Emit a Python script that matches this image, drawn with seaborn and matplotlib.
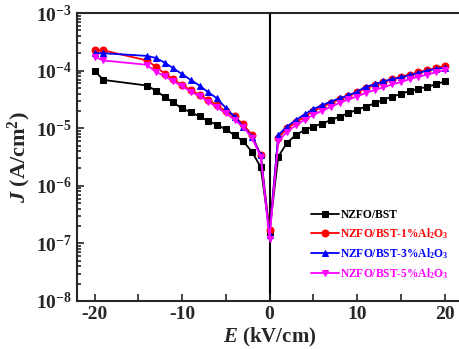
import numpy as np
import pandas as pd
import matplotlib
matplotlib.use('Agg')
import matplotlib.pyplot as plt
import matplotlib.ticker as mticker
import seaborn as sns

# Electric field (kV/cm)
E = [-20, -19, -14, -13, -12, -11, -10, -9, -8, -7, -6, -5, -4, -3, -2, -1, 0,
     1, 2, 3, 4, 5, 6, 7, 8, 9, 10, 11, 12, 13, 14, 15, 16, 17, 18, 19, 20]

# Leakage current density (A/cm2)
J_bst = [1.0e-4, 6.9e-5, 5.5e-5, 4.5e-5, 3.5e-5, 2.8e-5, 2.2e-5, 1.9e-5, 1.6e-5, 1.33e-5,
         1.15e-5, 9.5e-6, 7.6e-6, 5.9e-6, 3.9e-6, 2.1e-6, 1.6e-7,
         3.2e-6, 5.6e-6, 7.6e-6, 9.3e-6, 1.07e-5, 1.2e-5, 1.38e-5, 1.58e-5, 1.82e-5, 2.1e-5,
         2.35e-5, 2.7e-5, 3.1e-5, 3.55e-5, 3.9e-5, 4.45e-5, 4.8e-5, 5.25e-5, 5.75e-5, 6.5e-5]
J_al1 = [2.3e-4, 2.25e-4, 1.5e-4, 1.17e-4, 8.9e-5, 7.1e-5, 5.6e-5, 4.6e-5, 3.8e-5, 3.1e-5,
         2.5e-5, 1.95e-5, 1.6e-5, 1.17e-5, 7.6e-6, 3.4e-6, 1.7e-7,
         6.8e-6, 1.0e-5, 1.26e-5, 1.58e-5, 2.0e-5, 2.35e-5, 2.75e-5, 3.2e-5, 3.6e-5, 4.2e-5,
         5.0e-5, 5.6e-5, 6.3e-5, 7.1e-5, 7.8e-5, 8.5e-5, 9.3e-5, 1.02e-4, 1.1e-4, 1.2e-4]
J_al3 = [2.0e-4, 2.0e-4, 1.8e-4, 1.66e-4, 1.38e-4, 1.1e-4, 8.7e-5, 6.9e-5, 5.5e-5, 4.2e-5,
         3.3e-5, 2.25e-5, 1.58e-5, 1.07e-5, 7.1e-6, 3.4e-6, 1.4e-7,
         7.6e-6, 1.07e-5, 1.38e-5, 1.74e-5, 2.15e-5, 2.5e-5, 2.9e-5, 3.3e-5, 3.7e-5, 4.3e-5,
         5.25e-5, 5.75e-5, 6.5e-5, 7.1e-5, 7.6e-5, 8.3e-5, 9.1e-5, 1.0e-4, 1.07e-4, 1.12e-4]
J_al5 = [1.74e-4, 1.5e-4, 1.26e-4, 9.5e-5, 8.1e-5, 6.5e-5, 5.4e-5, 4.3e-5, 3.6e-5, 2.9e-5,
         2.3e-5, 1.82e-5, 1.4e-5, 1.05e-5, 6.8e-6, 3.2e-6, 1.2e-7,
         5.9e-6, 8.7e-6, 1.12e-5, 1.4e-5, 1.7e-5, 2.0e-5, 2.35e-5, 2.75e-5, 3.15e-5, 3.55e-5,
         4.1e-5, 4.6e-5, 5.1e-5, 5.75e-5, 6.3e-5, 7.1e-5, 7.8e-5, 8.5e-5, 9.3e-5, 1.02e-4]

labels = ['NZFO/BST', 'NZFO/BST-1%Al$_2$O$_3$', 'NZFO/BST-3%Al$_2$O$_3$', 'NZFO/BST-5%Al$_2$O$_3$']
colors = ['#000000', '#ff0000', '#0000ff', '#ff00ff']
markers = ['s', 'o', '^', 'v']

sns.set_style('ticks')
plt.rcParams['font.family'] = ['Liberation Serif', 'DejaVu Serif']
plt.rcParams['font.weight'] = 'bold'
plt.rcParams['mathtext.fontset'] = 'custom'
plt.rcParams['mathtext.rm'] = 'Liberation Serif:bold'
plt.rcParams['mathtext.bf'] = 'Liberation Serif:bold'
plt.rcParams['mathtext.it'] = 'Liberation Serif:bold:italic'

fig = plt.figure(figsize=(4.59, 3.49), dpi=100, facecolor='w')
ax = fig.add_axes([77 / 459, 48 / 349, 385 / 459, 288 / 349])

for J, lab, col, mk in zip([J_bst, J_al1, J_al3, J_al5], labels, colors, markers):
    df = pd.DataFrame({'E': E, 'J': J})
    sns.lineplot(ax=ax, data=df, x='E', y='J', color=col, marker=mk, markersize=5,
                 markeredgecolor=col, linewidth=1.3, label=lab, sort=False)

ax.axvline(0, color='black', linewidth=1.5, zorder=0)

ax.set_yscale('log')
ax.set_ylim(1e-8, 1e-3)
ax.set_xlim(-22, 22)
ax.xaxis.set_major_locator(mticker.MultipleLocator(10))
ax.xaxis.set_minor_locator(mticker.MultipleLocator(5))
ax.yaxis.set_major_locator(mticker.LogLocator(base=10, numticks=10))
ax.yaxis.set_minor_locator(mticker.LogLocator(base=10, subs=np.arange(2, 10), numticks=10))
ax.yaxis.set_minor_formatter(mticker.NullFormatter())
ax.yaxis.set_major_formatter(mticker.FuncFormatter(lambda v, p: '$10^{%d}$' % int(round(np.log10(v)))))
ax.xaxis.set_major_formatter(mticker.FuncFormatter(lambda v, p: '%d' % v))

ax.tick_params(which='both', direction='in', width=1.2, labelsize=14)
ax.tick_params(which='major', length=5)
ax.tick_params(which='minor', length=3)
ax.tick_params(axis='x', which='minor', length=5)
for s in ax.spines.values():
    s.set_linewidth(1.5)

ax.set_xlabel('$\\mathit{E}$ (kV/cm)', fontsize=15, fontweight='bold', labelpad=2)
ax.set_ylabel('$\\mathit{J}$ (A/cm$^2$)', fontsize=16, fontweight='bold', labelpad=2)

leg = ax.legend(loc='upper left', bbox_to_anchor=(303 / 459, 1 - 201 / 349),
                bbox_transform=fig.transFigure, frameon=False,
                prop={'family': 'Liberation Serif', 'weight': 'bold', 'size': 8.3},
                handlelength=2.4, handletextpad=0.15, labelspacing=0.45, borderpad=0.2)
for txt, col in zip(leg.get_texts(), colors):
    txt.set_color(col)

plt.savefig('out.png', dpi=100)
